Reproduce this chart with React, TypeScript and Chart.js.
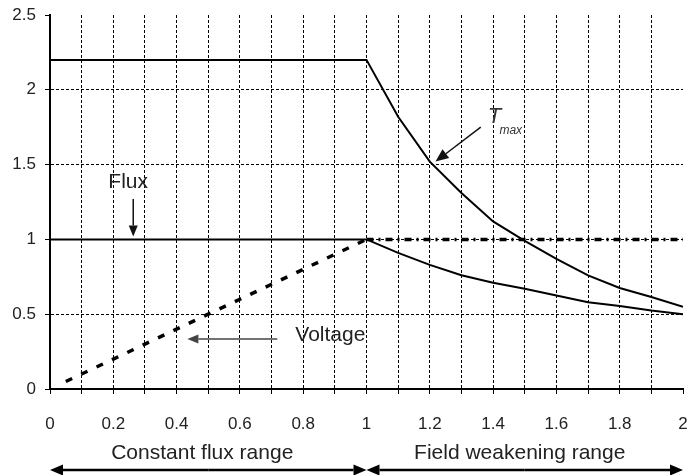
import React, { useEffect, useRef } from "react";
import { Chart, registerables } from "chart.js";

Chart.register(...registerables);

// ---- data ----
const tmaxX = [0, 1, 1.1, 1.2, 1.3, 1.4, 1.5, 1.6, 1.7, 1.8, 1.9, 2.0];
const tmaxY = [2.2, 2.2, 1.82, 1.52, 1.31, 1.12, 0.99, 0.87, 0.76, 0.675, 0.615, 0.55];

const fluxX = [0, 1, 1.1, 1.2, 1.3, 1.4, 1.5, 1.6, 1.7, 1.8, 1.9, 2.0];
const fluxY = [1, 1, 0.91, 0.83, 0.76, 0.71, 0.67, 0.625, 0.58, 0.555, 0.525, 0.5];

const voltRiseX = [0.05, 0.1, 0.2, 0.3, 0.4, 0.5, 0.6, 0.7, 0.8, 0.9, 1.0];
const voltRiseY = [0.05, 0.1, 0.2, 0.3, 0.4, 0.5, 0.6, 0.7, 0.8, 0.9, 1.0];

const voltFlatX = [1.0, 2.0];
const voltFlatY = [1.0, 1.0];

const xTickLabels = ["0", "0.2", "0.4", "0.6", "0.8", "1", "1.2", "1.4", "1.6", "1.8", "2"];
const yTickLabels = ["0", "0.5", "1", "1.5", "2", "2.5"];

const rangeLabels = ["Constant flux range", "Field weakening range"];

const FONT = '"Liberation Sans", Arial, Helvetica, sans-serif';

const pts = (xs: number[], ys: number[]) => xs.map((x, i) => ({ x, y: ys[i] }));

function arrow(ctx: CanvasRenderingContext2D, x1: number, y1: number, x2: number, y2: number, len = 11, wid = 9, width = 1.5) {
  const a = Math.atan2(y2 - y1, x2 - x1);
  const bx = x2 - len * Math.cos(a);
  const by = y2 - len * Math.sin(a);
  ctx.lineWidth = width;
  ctx.beginPath();
  ctx.moveTo(x1, y1);
  ctx.lineTo(bx, by);
  ctx.stroke();
  ctx.beginPath();
  ctx.moveTo(x2, y2);
  ctx.lineTo(bx + (wid / 2) * Math.sin(a), by - (wid / 2) * Math.cos(a));
  ctx.lineTo(bx - (wid / 2) * Math.sin(a), by + (wid / 2) * Math.cos(a));
  ctx.closePath();
  ctx.fill();
}

const annotationPlugin = {
  id: "annotations",
  afterDatasetsDraw(chart: any) {
    const { ctx, chartArea } = chart;
    const xs = chart.scales.x;
    const ys = chart.scales.y;
    const px = (v: number) => xs.getPixelForValue(v);
    const py = (v: number) => ys.getPixelForValue(v);
    ctx.save();
    ctx.fillStyle = "#222";
    ctx.strokeStyle = "#111";
    ctx.textBaseline = "middle";

    // Flux
    ctx.font = `21px ${FONT}`;
    ctx.textAlign = "center";
    ctx.fillText("Flux", px(0.247), py(1.38));
    ctx.fillStyle = "#111";
    arrow(ctx, px(0.263), py(1.27), px(0.263), py(1.02));

    // Voltage
    ctx.fillStyle = "#222";
    ctx.textAlign = "left";
    ctx.fillText("Voltage", px(0.775), py(0.36));
    ctx.fillStyle = "#444";
    ctx.strokeStyle = "#444";
    arrow(ctx, px(0.718), py(0.334), px(0.434), py(0.334));

    // T max
    ctx.fillStyle = "#333";
    ctx.font = `italic 22px ${FONT}`;
    ctx.textAlign = "left";
    ctx.fillText("T", px(1.383), py(1.82));
    ctx.font = `italic 12px ${FONT}`;
    ctx.fillText("max", px(1.42), py(1.73));
    ctx.fillStyle = "#111";
    ctx.strokeStyle = "#111";
    arrow(ctx, px(1.361), py(1.75), px(1.218), py(1.52), 13, 11);

    // bottom ranges
    const b = chartArea.bottom;
    ctx.fillStyle = "#222";
    ctx.font = `21px ${FONT}`;
    ctx.textAlign = "center";
    ctx.fillText(rangeLabels[0], (px(0) + px(1)) / 2 - 6, b + 64);
    ctx.fillText(rangeLabels[1], (px(1) + px(2)) / 2 - 5, b + 64);
    ctx.fillStyle = "#000";
    ctx.strokeStyle = "#000";
    const ay = b + 81;
    arrow(ctx, px(0.5), ay, px(0), ay, 13, 11, 2.5);
    arrow(ctx, px(0.5), ay, px(1), ay, 13, 11, 2.5);
    arrow(ctx, px(1.5), ay, px(1), ay, 13, 11, 2.5);
    arrow(ctx, px(1.5), ay, px(2), ay, 13, 11, 2.5);
    ctx.restore();
  },
};

const near = (a: number, b: number) => Math.abs(a - b) < 1e-6;

export default function App() {
  const ref = useRef<HTMLCanvasElement>(null);
  useEffect(() => {
    if (!ref.current) return;
    const chart = new Chart(ref.current, {
      type: "line",
      data: {
        datasets: [
          {
            label: "Tmax",
            data: pts(tmaxX, tmaxY),
            borderColor: "#000",
            borderWidth: 2,
            pointRadius: 0,
            tension: 0,
          },
          {
            label: "Flux",
            data: pts(fluxX, fluxY),
            borderColor: "#000",
            borderWidth: 2,
            pointRadius: 0,
            tension: 0,
          },
          {
            label: "Voltage",
            data: pts(voltRiseX, voltRiseY),
            borderColor: "#000",
            borderWidth: 3.5,
            borderDash: [7, 10],
            pointRadius: 0,
            tension: 0,
          },
          {
            label: "Voltage (flat)",
            data: pts(voltFlatX, voltFlatY),
            borderColor: "#000",
            borderWidth: 3.5,
            borderDash: [7, 5, 2, 5],
            pointRadius: 0,
            tension: 0,
          },
        ],
      },
      options: {
        responsive: false,
        animation: false,
        devicePixelRatio: 1,
        layout: { padding: { top: 15, right: 9, bottom: 0, left: 0 } },
        plugins: { legend: { display: false }, tooltip: { enabled: false } },
        scales: {
          x: {
            type: "linear",
            min: 0,
            max: 2,
            afterFit: (s: any) => {
              s.height = 86;
              s.paddingLeft = 0;
              s.paddingRight = 0;
            },
            ticks: {
              stepSize: 0.1,
              autoSkip: false,
              maxRotation: 0,
              padding: 20,
              color: "#222",
              font: { family: FONT, size: 17 },
              callback: (v: any) => {
                const k = Math.round(Number(v) * 10);
                return k % 2 === 0 ? xTickLabels[k / 2] : "";
              },
            },
            grid: {
              color: (c: any) => (c.tick && (near(c.tick.value, 0) || near(c.tick.value, 2)) ? "rgba(0,0,0,0)" : "#000"),
              lineWidth: 1,
              tickLength: 5,
              tickColor: "#000",
              tickWidth: 1,
              tickBorderDash: [],
            },
            border: { display: true, color: "#000", width: 2, dash: [3, 2] },
          },
          y: {
            type: "linear",
            min: 0,
            max: 2.5,
            afterFit: (s: any) => {
              s.width = 50;
              s.paddingTop = 0;
              s.paddingBottom = 0;
            },
            ticks: {
              stepSize: 0.5,
              padding: 9,
              color: "#222",
              font: { family: FONT, size: 17 },
              callback: (v: any) => yTickLabels[Math.round(Number(v) * 2)],
            },
            grid: {
              color: (c: any) => (c.tick && (near(c.tick.value, 0) || near(c.tick.value, 2.5)) ? "rgba(0,0,0,0)" : "#000"),
              lineWidth: 1,
              tickLength: 5,
              tickColor: "#000",
              tickWidth: 1,
              tickBorderDash: [],
            },
            border: { display: true, color: "#000", width: 2, dash: [3, 2] },
          },
        },
      },
      plugins: [annotationPlugin],
    });
    return () => chart.destroy();
  }, []);
  return (
    <div style={{ position: "absolute", left: 0, top: 0, width: 692, height: 475, background: "#fff" }}>
      <canvas ref={ref} width={692} height={475} style={{ display: "block", width: 692, height: 475 }} />
    </div>
  );
}
